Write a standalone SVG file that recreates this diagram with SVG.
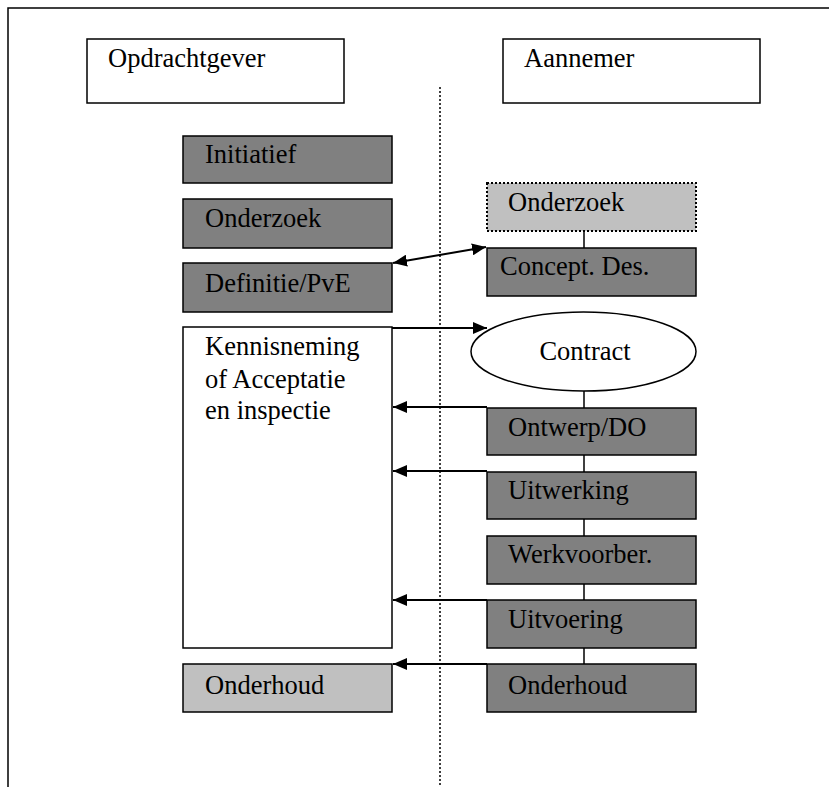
<svg xmlns="http://www.w3.org/2000/svg" width="829" height="787" viewBox="0 0 829 787">
  <style>
    .box { stroke: #000; stroke-width: 1.5; }
    .dark { fill: #808080; }
    .light { fill: #c0c0c0; }
    .white { fill: #fff; }
    .line { stroke: #000; stroke-width: 1.5; fill: none; }
    .arrow { stroke: #000; stroke-width: 2; fill: none; }
    .lbl { font-family: 'Liberation Serif', 'Times New Roman', 'DejaVu Serif', serif; font-size: 26.5px; fill: #000; }
  </style>
  <defs>
    <marker id="head" viewBox="0 0 14 12" refX="14" refY="6" markerWidth="14" markerHeight="12" markerUnits="userSpaceOnUse" orient="auto-start-reverse">
      <path d="M0,0 L14,6 L0,12 Z" fill="#000"/>
    </marker>
  </defs>

  <rect width="829" height="787" fill="#fff"/>

  <!-- page frame and column divider -->
  <g id="frame">
    <path class="line" d="M8,787 V8 H829"/>
    <line x1="440" y1="87" x2="440" y2="787" stroke="#000" stroke-width="1.5" stroke-dasharray="2,2"/>
  </g>

  <g id="opdrachtgever">
    <rect class="box white" x="87" y="39" width="257" height="64"/>
    <text class="lbl" x="108" y="67">Opdrachtgever</text>
  </g>
  <g id="aannemer">
    <rect class="box white" x="503" y="39" width="257" height="64"/>
    <text class="lbl" x="524" y="67">Aannemer</text>
  </g>

  <!-- client column -->
  <g id="initiatief">
    <rect class="box dark" x="183" y="136" width="209" height="47"/>
    <text class="lbl" x="205" y="163">Initiatief</text>
  </g>
  <g id="onderzoek-o">
    <rect class="box dark" x="183" y="199" width="209" height="49"/>
    <text class="lbl" x="205" y="227">Onderzoek</text>
  </g>
  <g id="definitie">
    <rect class="box dark" x="183" y="263" width="209" height="49"/>
    <text class="lbl" x="205" y="292">Definitie/PvE</text>
  </g>
  <g id="kennisneming">
    <rect class="box white" x="183" y="327" width="209" height="321"/>
    <text class="lbl" x="205" y="355">Kennisneming</text>
    <text class="lbl" x="205" y="388">of Acceptatie</text>
    <text class="lbl" x="205" y="419">en inspectie</text>
  </g>
  <g id="onderhoud-o">
    <rect class="box light" x="183" y="664" width="209" height="48"/>
    <text class="lbl" x="205" y="694">Onderhoud</text>
  </g>

  <!-- contractor column -->
  <g id="onderzoek-a">
    <rect x="487" y="183" width="209" height="48" class="light" stroke="#000" stroke-width="2" stroke-dasharray="2,2"/>
    <text class="lbl" x="508" y="211">Onderzoek</text>
  </g>
  <g id="concept">
    <rect class="box dark" x="487" y="248" width="209" height="48"/>
    <text class="lbl" x="500" y="275">Concept. Des.</text>
  </g>
  <g id="contract">
    <ellipse class="box white" cx="583.5" cy="351.5" rx="112.5" ry="39.5"/>
    <text class="lbl" x="585" y="360" text-anchor="middle">Contract</text>
  </g>
  <g id="ontwerp">
    <rect class="box dark" x="487" y="408" width="209" height="47"/>
    <text class="lbl" x="508" y="436">Ontwerp/DO</text>
  </g>
  <g id="uitwerking">
    <rect class="box dark" x="487" y="472" width="209" height="47"/>
    <text class="lbl" x="508" y="499">Uitwerking</text>
  </g>
  <g id="werkvoorber">
    <rect class="box dark" x="487" y="536" width="209" height="48"/>
    <text class="lbl" x="508" y="563">Werkvoorber.</text>
  </g>
  <g id="uitvoering">
    <rect class="box dark" x="487" y="600" width="209" height="48"/>
    <text class="lbl" x="508" y="628">Uitvoering</text>
  </g>
  <g id="onderhoud-a">
    <rect class="box dark" x="487" y="664" width="209" height="48"/>
    <text class="lbl" x="508" y="694">Onderhoud</text>
  </g>

  <g id="connectors">
    <line class="line" x1="584" y1="231" x2="584" y2="248"/>
    <line class="line" x1="584" y1="391" x2="584" y2="408"/>
    <line class="line" x1="584" y1="455" x2="584" y2="472"/>
    <line class="line" x1="584" y1="519" x2="584" y2="536"/>
    <line class="line" x1="584" y1="584" x2="584" y2="600"/>
    <line class="line" x1="584" y1="648" x2="584" y2="664"/>

    <line class="arrow" x1="393" y1="263" x2="486" y2="247" marker-start="url(#head)" marker-end="url(#head)"/>
    <line class="arrow" x1="392" y1="328" x2="487" y2="328" marker-end="url(#head)"/>
    <line class="arrow" x1="487" y1="407" x2="393" y2="407" marker-end="url(#head)"/>
    <line class="arrow" x1="487" y1="471" x2="393" y2="471" marker-end="url(#head)"/>
    <line class="arrow" x1="487" y1="600" x2="393" y2="600" marker-end="url(#head)"/>
    <line class="arrow" x1="487" y1="664" x2="393" y2="664" marker-end="url(#head)"/>
  </g>
</svg>
